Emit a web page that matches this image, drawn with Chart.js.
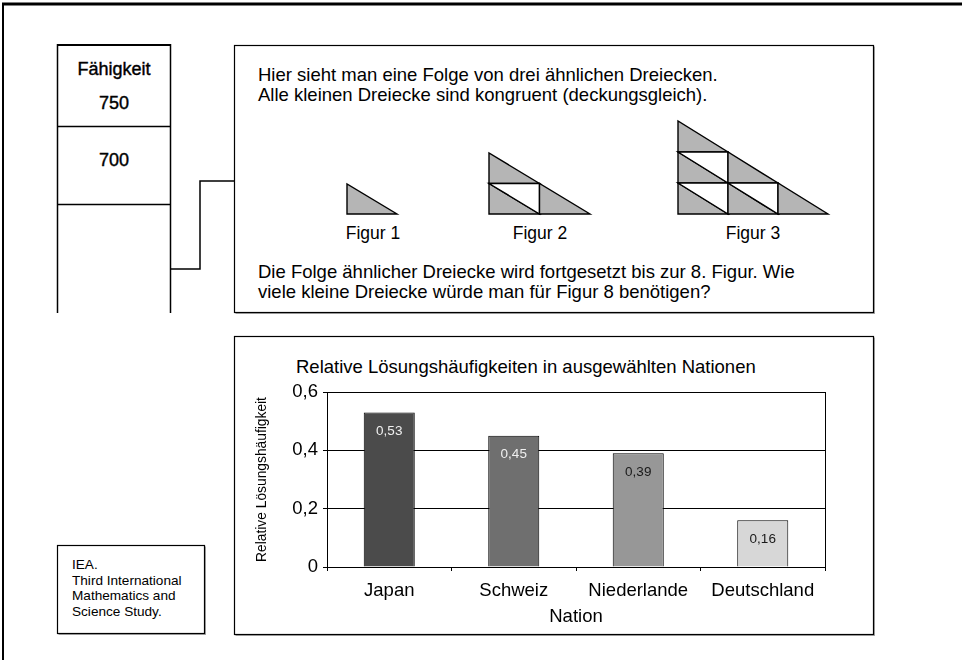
<!DOCTYPE html>
<html lang="de">
<head>
<meta charset="utf-8">
<script src="https://cdn.jsdelivr.net/npm/chart.js@4/dist/chart.umd.min.js"></script>
<style>
  html, body { margin: 0; padding: 0; background: #fff; }
  #page { position: relative; width: 962px; height: 660px; overflow: hidden; background: #fff;
          font-family: "Liberation Sans", Arial, Helvetica, sans-serif; color: #000; }
  #frame { position: absolute; left: 0; top: 0; }
  .t { position: absolute; white-space: nowrap; line-height: 20px; }
  .c { transform: translateX(-50%); }
  .p { font-size: 18.5px; }
  .s { font-size: 18px; -webkit-text-stroke: 0.4px #000; }
  #chartWrap { position: absolute; left: 234px; top: 336px; width: 640px; height: 299px; }
</style>
</head>
<body>
<div id="page">
  <svg id="frame" width="962" height="660" xmlns="http://www.w3.org/2000/svg"></svg>

  <!-- ability scale column -->
  <div class="t c s" style="left:114px; top:59px;">Fähigkeit</div>
  <div class="t c s" style="left:114px; top:93px;">750</div>
  <div class="t c s" style="left:114px; top:150px;">700</div>

  <!-- task text -->
  <div class="t p" style="left:258px; top:65px;">Hier sieht man eine Folge von drei ähnlichen Dreiecken.</div>
  <div class="t p" style="left:258px; top:85px;">Alle kleinen Dreiecke sind kongruent (deckungsgleich).</div>
  <div class="t c" style="left:373px; top:223px; font-size:17.5px;">Figur 1</div>
  <div class="t c" style="left:540px; top:223px; font-size:17.5px;">Figur 2</div>
  <div class="t c" style="left:753px; top:223px; font-size:17.5px;">Figur 3</div>
  <div class="t p" style="left:258px; top:262px;">Die Folge ähnlicher Dreiecke wird fortgesetzt bis zur 8. Figur. Wie</div>
  <div class="t p" style="left:258px; top:282px;">viele kleine Dreiecke würde man für Figur 8 benötigen?</div>

  <!-- source note -->
  <div class="t" style="left:72px; top:557px; font-size:13.6px; line-height:15.5px;">IEA.<br>Third International<br>Mathematics and<br>Science Study.</div>

  <!-- chart -->
  <div class="t p" style="left:296px; top:357px;">Relative Lösungshäufigkeiten in ausgewählten Nationen</div>
  <div id="chartWrap"><canvas id="chart" width="640" height="299"></canvas></div>
</div>

<script>
// Nations and share of correct answers
const categories = ['Japan', 'Schweiz', 'Niederlande', 'Deutschland'];
const shares = [0.53, 0.45, 0.39, 0.16];
const yTicks = [0, 0.2, 0.4, 0.6];
const barColors = ['#4b4b4b', '#6f6f6f', '#979797', '#d7d7d7'];
const valueColors = ['#f0f0f0', '#f0f0f0', '#1a1a1a', '#1a1a1a'];

// ---- frames, connector and triangle figures (SVG) ----
const NS = 'http://www.w3.org/2000/svg';
const svg = document.getElementById('frame');
function el(name, attrs) {
  const e = document.createElementNS(NS, name);
  for (const k in attrs) e.setAttribute(k, attrs[k]);
  svg.appendChild(e);
  return e;
}
function line(x1, y1, x2, y2, w, c) {
  el('line', { x1, y1, x2, y2, stroke: c || '#000', 'stroke-width': w || 1 });
}
function box(x, y, w, h) {
  line(x + w + 1, y + 1, x + w + 1, y + h + 1, 1, '#a8a8a8');
  line(x + 1, y + h + 1, x + w + 1.5, y + h + 1, 1, '#a8a8a8');
  el('rect', { x, y, width: w, height: h, fill: 'none', stroke: '#000', 'stroke-width': 1.2 });
}

// outer frame (top and left only)
line(2, 4, 962, 4, 3);
line(3, 3, 3, 660, 2);

// ability column
line(57, 45, 171, 45, 2);
line(57.5, 44, 57.5, 313, 1.5);
line(170.5, 44, 170.5, 313, 1.5);
line(57, 126.5, 171, 126.5, 1.5);
line(57, 204.5, 171, 204.5, 1.5);

// connector from column to task box
el('polyline', { points: '171,269 200,269 200,181 234,181', fill: 'none', stroke: '#000', 'stroke-width': 1.5 });

// boxes
box(234.5, 45.5, 639, 267);
box(234.5, 336.5, 639, 298);
box(57.5, 545.5, 147, 88);

// triangle figures: row r holds r+1 grey upright and r white inverted triangles
function figure(x0, yBottom, n, w, h) {
  const top = yBottom - n * h;
  for (let r = 0; r < n; r++) {
    const yt = top + r * h, yb = yt + h;
    for (let k = 0; k <= r; k++) {
      const xa = x0 + k * w, xb = xa + w;
      el('polygon', { points: `${xa},${yt} ${xa},${yb} ${xb},${yb}`, fill: '#b5b5b5', stroke: '#000', 'stroke-width': 1.4 });
      if (k < r) {
        el('polygon', { points: `${xa},${yt} ${xb},${yt} ${xb},${yb}`, fill: '#fff', stroke: '#000', 'stroke-width': 1.4 });
      }
    }
  }
}
figure(347, 214, 1, 50, 30);
figure(489, 214, 2, 50.5, 30.5);
figure(678, 214, 3, 50, 31);

// ---- bar chart ----
const FONT = '"Liberation Sans", Arial, sans-serif';
const fmt = (v, d) => (v === 0 ? '0' : v.toFixed(d).replace('.', ','));

const valueLabels = {
  id: 'valueLabels',
  afterDatasetsDraw(chart) {
    const ctx = chart.ctx;
    const meta = chart.getDatasetMeta(0);
    ctx.save();
    ctx.font = '13.5px ' + FONT;
    ctx.textAlign = 'center';
    ctx.textBaseline = 'middle';
    meta.data.forEach((bar, i) => {
      ctx.fillStyle = valueColors[i];
      ctx.fillText(fmt(shares[i], 2), bar.x, bar.y + 19);
    });
    ctx.restore();
  }
};

new Chart(document.getElementById('chart'), {
  type: 'bar',
  data: {
    labels: categories,
    datasets: [{
      data: shares,
      backgroundColor: barColors,
      borderColor: '#000',
      borderWidth: 1,
      categoryPercentage: 1,
      barPercentage: 0.41
    }]
  },
  options: {
    responsive: false,
    animation: false,
    devicePixelRatio: 1,
    layout: { padding: { top: 56, left: 0, right: 0, bottom: 0 } },
    plugins: { legend: { display: false }, title: { display: false }, tooltip: { enabled: false } },
    scales: {
      x: {
        grid: { display: true, drawOnChartArea: false, drawTicks: true, tickLength: 4, color: '#000', offset: true },
        border: { display: true, color: '#000', width: 1 },
        ticks: { color: '#000', font: { family: FONT, size: 18.5 }, padding: 9, maxRotation: 0 },
        title: { display: true, text: 'Nation', color: '#000', font: { family: FONT, size: 18.5 }, padding: { top: 0, bottom: 7 } },
        afterFit(s) { s.height = 68; }
      },
      y: {
        min: 0, max: 0.6,
        afterBuildTicks(s) { s.ticks = yTicks.map(v => ({ value: v })); },
        grid: { color: '#000', lineWidth: 1, drawTicks: true, tickLength: 4 },
        border: { display: true, color: '#000', width: 1 },
        ticks: { color: '#000', font: { family: FONT, size: 18.5 }, padding: 5, callback: v => fmt(v, 1) },
        title: { display: true, text: 'Relative Lösungshäufigkeit', color: '#000', font: { family: FONT, size: 13.8 }, padding: { top: 20, bottom: 0 } },
        afterFit(s) { s.width = 93; }
      },
      yRight: {
        position: 'right',
        min: 0, max: 0.6,
        grid: { display: false },
        ticks: { display: false },
        border: { display: true, color: '#000', width: 1 },
        afterFit(s) { s.width = 49; }
      }
    }
  },
  plugins: [valueLabels]
});
</script>
</body>
</html>
